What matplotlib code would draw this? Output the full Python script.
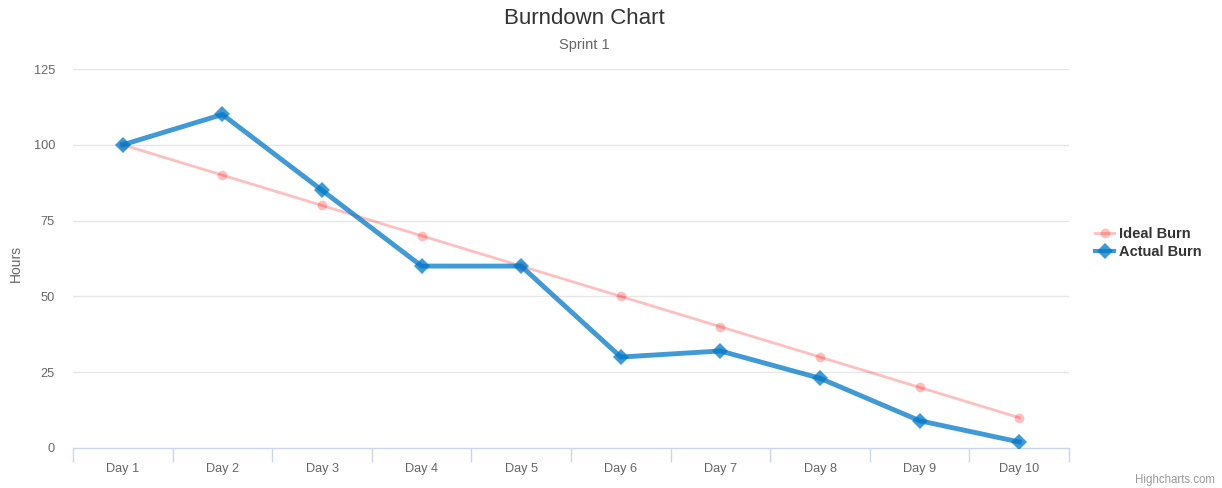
import matplotlib
matplotlib.use("Agg")
import matplotlib.pyplot as plt
from matplotlib.lines import Line2D

plt.rcParams['font.family'] = ['Liberation Sans', 'DejaVu Sans']

categories = ["Day 1", "Day 2", "Day 3", "Day 4", "Day 5", "Day 6", "Day 7", "Day 8", "Day 9", "Day 10"]
ideal_burn = [100, 90, 80, 70, 60, 50, 40, 30, 20, 10]
actual_burn = [100, 110, 85, 60, 60, 30, 32, 23, 9, 2]
y_ticks = [0, 25, 50, 75, 100, 125]

W, H = 1222, 488
fig = plt.figure(figsize=(W / 100, H / 100), dpi=100)
ax = fig.add_axes([73 / W, 1 - 448 / H, (1069 - 73) / W, (448 - 69) / H])

x = list(range(len(categories)))
ideal_color = (1.0, 0.0, 0.0, 0.25)
actual_color = (0.0, 120 / 255, 200 / 255, 0.75)

ax.plot(x, ideal_burn, color=ideal_color, lw=2, marker='o', ms=7,
        markeredgewidth=0, zorder=3, label="Ideal Burn")
ax.plot(x, actual_burn, color=actual_color, lw=3.5, marker='D', ms=8.5,
        markeredgewidth=0, zorder=4, label="Actual Burn")

ax.set_xlim(-0.5, len(categories) - 0.5)
ax.set_ylim(0, 125)
ax.set_yticks(y_ticks)
ax.set_yticklabels([str(v) for v in y_ticks])
for v in y_ticks[1:]:
    ax.axhline(v, color='#e6e6e6', lw=1, zorder=1)

ax.set_xticks(x)
ax.set_xticklabels(categories)
ax.set_xticks([i - 0.5 for i in range(len(categories) + 1)], minor=True)
ax.tick_params(axis='x', which='major', length=0, pad=11, labelsize=9.2, labelcolor='#666666')
ax.tick_params(axis='x', which='minor', length=10, color='#ccd6eb', width=1)
ax.tick_params(axis='y', length=0, pad=13, labelsize=9.2, labelcolor='#666666')

for s in ['top', 'right', 'left']:
    ax.spines[s].set_visible(False)
ax.spines['bottom'].set_color('#ccd6eb')
ax.spines['bottom'].set_linewidth(1)

fig.text(16 / W, 1 - 263 / H, "Hours", rotation=90, ha='center', va='center',
         fontsize=10, color='#666666')

fig.text(584 / W, 1 - 19 / H, "Burndown Chart", ha='center', va='center',
         fontsize=16, color='#333333')
fig.text(584 / W, 1 - 45 / H, "Sprint 1", ha='center', va='center',
         fontsize=10.5, color='#666666')

handles = [
    Line2D([0], [0], color=ideal_color, lw=2, marker='o', ms=7, markeredgewidth=0),
    Line2D([0], [0], color=actual_color, lw=3, marker='D', ms=8.5, markeredgewidth=0),
]
leg = fig.legend(handles, ["Ideal Burn", "Actual Burn"], loc='center left',
                 bbox_to_anchor=(1082 / W, 1 - 243 / H), frameon=False,
                 handlelength=1.3, handletextpad=0.35, labelspacing=0.3,
                 prop={'weight': 'bold', 'size': 10.5})
for t in leg.get_texts():
    t.set_color('#333333')

fig.text(1215 / W, 1 - 480 / H, "Highcharts.com", ha='right', va='center',
         fontsize=8.3, color='#999999')

fig.savefig("out.png", dpi=100)
